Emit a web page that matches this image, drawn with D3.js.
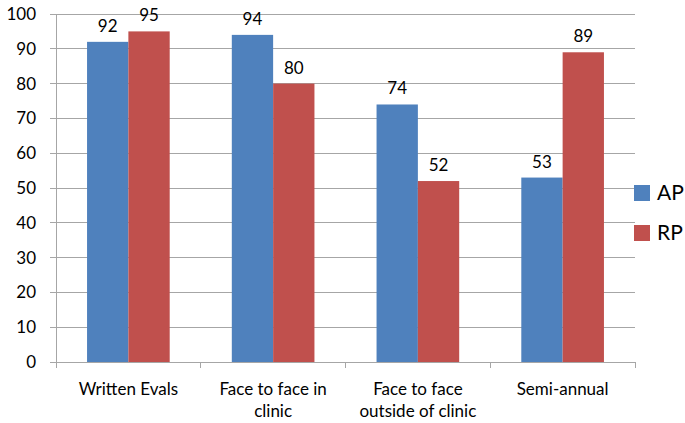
<!DOCTYPE html>
<html>
<head>
<meta charset="utf-8">
<script src="https://cdn.jsdelivr.net/npm/d3@7"></script>
<style>
  html, body { margin: 0; padding: 0; background: #fff; }
  svg { display: block; font-family: Lato, "Open Sans", sans-serif; }
</style>
</head>
<body>
<svg id="chart" width="685" height="423"></svg>
<script>
// Feedback types and the share (%) reported by each group
const categories = [["Written Evals"], ["Face to face in", "clinic"], ["Face to face", "outside of clinic"], ["Semi-annual"]];
const seriesNames = ["AP", "RP"];
const apValues = [92, 94, 74, 53];
const rpValues = [95, 80, 52, 89];
const yTicks = [0, 10, 20, 30, 40, 50, 60, 70, 80, 90, 100];
const colors = ["#4F81BD", "#C0504D"];

const svg = d3.select("#chart");
const margin = { left: 56, right: 50, top: 14, bottom: 61 };
const W = 685, H = 423;
const plotW = W - margin.left - margin.right;
const plotH = H - margin.top - margin.bottom;
const g = svg.append("g").attr("transform", `translate(${margin.left},${margin.top})`);

const keys = categories.map(c => c.join(" "));
const x = d3.scaleBand().domain(keys).range([0, plotW]).paddingInner(0).paddingOuter(0);
const x1 = d3.scaleBand().domain(seriesNames).range([x.bandwidth() * 0.2145, x.bandwidth() * 0.7855]);
const y = d3.scaleLinear().domain([0, 100]).range([plotH, 0]);

// Horizontal gridlines
g.selectAll("line.grid").data(yTicks).join("line")
  .attr("x1", -6).attr("x2", plotW)
  .attr("y1", d => y(d)).attr("y2", d => y(d))
  .attr("stroke", "#a6a6a6").attr("stroke-width", 1)
  .attr("shape-rendering", "crispEdges");

// Y-axis labels
g.selectAll("text.ytick").data(yTicks).join("text")
  .attr("x", -20).attr("y", d => y(d)).attr("dy", "0.35em")
  .attr("text-anchor", "end").attr("font-size", 17).attr("fill", "#000")
  .text(d => d);

// Y-axis line
g.append("line").attr("x1", 0).attr("x2", 0).attr("y1", 0).attr("y2", plotH)
  .attr("stroke", "#a6a6a6").attr("shape-rendering", "crispEdges");

// Category boundary ticks
const bounds = keys.map(k => x(k)).concat([plotW]);
g.selectAll("line.xtick").data(bounds).join("line")
  .attr("x1", d => d).attr("x2", d => d).attr("y1", plotH).attr("y2", plotH + 6)
  .attr("stroke", "#a6a6a6").attr("shape-rendering", "crispEdges");

// Bars
const rows = keys.map((k, i) => ({ key: k, values: [apValues[i], rpValues[i]] }));
const groups = g.selectAll("g.cat").data(rows).join("g")
  .attr("transform", d => `translate(${x(d.key)},0)`);

groups.selectAll("rect").data(d => d.values.map((v, j) => ({ name: seriesNames[j], v, j })))
  .join("rect")
  .attr("x", d => x1(d.name)).attr("width", x1.bandwidth())
  .attr("y", d => y(d.v)).attr("height", d => plotH - y(d.v))
  .attr("fill", d => colors[d.j]);

groups.selectAll("text.val").data(d => d.values.map((v, j) => ({ name: seriesNames[j], v })))
  .join("text")
  .attr("x", d => x1(d.name) + x1.bandwidth() / 2)
  .attr("y", d => y(d.v) - 10)
  .attr("text-anchor", "middle").attr("font-size", 17).attr("fill", "#000")
  .text(d => d.v);

// X-axis line drawn over bar bottoms
g.append("line").attr("x1", 0).attr("x2", plotW).attr("y1", plotH).attr("y2", plotH)
  .attr("stroke", "#a6a6a6").attr("shape-rendering", "crispEdges");

// Category labels (wrapped)
categories.forEach((lines, i) => {
  const t = g.append("text")
    .attr("x", x(keys[i]) + x.bandwidth() / 2)
    .attr("y", plotH + 33)
    .attr("text-anchor", "middle").attr("font-size", 17).attr("fill", "#000");
  lines.forEach((ln, k) => {
    t.append("tspan").attr("x", x(keys[i]) + x.bandwidth() / 2)
      .attr("dy", k === 0 ? 0 : 22).text(ln);
  });
});

// Legend
const legend = svg.append("g").attr("transform", `translate(634,185)`);
seriesNames.forEach((n, i) => {
  legend.append("rect").attr("x", 0).attr("y", i * 40).attr("width", 16).attr("height", 16)
    .attr("fill", colors[i]);
  legend.append("text").attr("x", 23).attr("y", i * 40 + 8).attr("dy", "0.35em")
    .attr("font-size", 21).attr("fill", "#000").text(n);
});
</script>
</body>
</html>
